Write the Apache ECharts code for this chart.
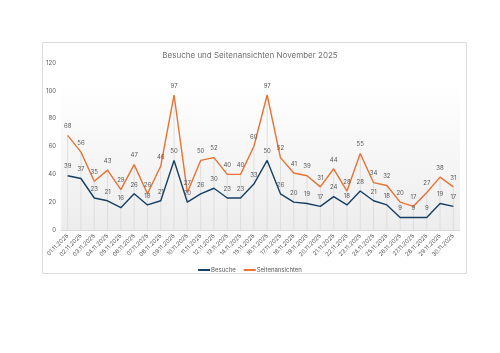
<!DOCTYPE html>
<html>
<head>
<meta charset="utf-8">
<script src="https://cdn.jsdelivr.net/npm/echarts@6/dist/echarts.min.js"></script>
<style>
html,body{margin:0;padding:0;background:#fff;}
#main{width:500px;height:353px;}
</style>
</head>
<body>
<div id="main"></div>
<script>
var days = ["01.11.2025","02.11.2025","03.11.2025","04.11.2025","05.11.2025","06.11.2025","07.11.2025","08.11.2025","09.11.2025","10.11.2025",
	"11.11.2025","12.11.2025","13.11.2025","14.11.2025","15.11.2025","16.11.2025","17.11.2025","18.11.2025","19.11.2025","20.11.2025",
	"21.11.2025","22.11.2025","23.11.2025","24.11.2025","25.11.2025","26.11.2025","27.11.2025","28.11.2025","29.11.2025","30.11.2025"];
var besuche = [39,37,23,21,16,26,18,21,50,20,26,30,23,23,33,50,26,20,19,17,24,18,28,21,18,9,9,9,19,17];
var seiten = [68,56,35,43,29,47,26,46,97,27,50,52,40,40,60,97,52,41,39,31,44,28,55,34,32,20,17,27,38,31];
var yTicks = [0,20,40,60,80,100,120];

// Fallinien: vom hoechsten Punkt bis zur Achse
var drop = [];
for (var i = 0; i < days.length; i++) {
	drop.push(Math.max(besuche[i], seiten[i]));
}

var grey = '#595959';
var myChart = echarts.init(document.getElementById('main'));
var option = {
	backgroundColor: '#fff',
	animation: false,
	textStyle: { fontFamily: 'Inter, "Noto Sans", sans-serif' },
	graphic: [{
		type: 'rect', z: -10,
		shape: { x: 42.5, y: 42.5, width: 424, height: 231 },
		style: { fill: '#fff', stroke: '#dcdcdc', lineWidth: 1 }
	}],
	title: {
		text: 'Besuche und Seitenansichten November 2025',
		left: 'center', top: 47,
		textStyle: { fontSize: 8, fontWeight: 'normal', color: '#707070' }
	},
	legend: {
		data: ['Besuche', 'Seitenansichten'],
		top: 262, left: 'center',
		itemWidth: 12, itemHeight: 2, itemGap: 8,
		icon: 'rect',
		textStyle: { fontSize: 6, color: grey, padding: [0, 0, 0, -4] }
	},
	grid: {
		left: 61, right: 40, top: 63, bottom: 123,
		show: true, borderWidth: 0,
		backgroundColor: new echarts.graphic.LinearGradient(0, 0, 0, 1, [
			{ offset: 0, color: '#ffffff' },
			{ offset: 0.12, color: '#ffffff' },
			{ offset: 1, color: '#ededed' }
		])
	},
	xAxis: {
		type: 'category',
		data: days,
		boundaryGap: true,
		axisLine: { lineStyle: { color: '#d9d9d9' } },
		axisTick: { show: false },
		axisLabel: { rotate: 45, fontSize: 5.8, color: grey, interval: 0, margin: 5 }
	},
	yAxis: {
		type: 'value',
		min: yTicks[0], max: yTicks[yTicks.length - 1], interval: 20,
		splitLine: { show: false },
		axisLine: { show: false },
		axisTick: { show: false },
		axisLabel: { fontSize: 6, color: grey, margin: 5 }
	},
	series: [{
		name: 'drop', type: 'bar', data: drop, barWidth: 1, silent: true,
		itemStyle: { color: '#dedede' }, z: 1
	}, {
		name: 'Besuche', type: 'line', data: besuche,
		symbol: 'circle', symbolSize: 0.1, showSymbol: true, z: 3,
		lineStyle: { color: '#173f63', width: 1.4 },
		itemStyle: { color: '#173f63' },
		label: { show: true, position: 'top', distance: 6, fontSize: 6, color: grey }
	}, {
		name: 'Seitenansichten', type: 'line', data: seiten,
		symbol: 'circle', symbolSize: 0.1, showSymbol: true, z: 3,
		lineStyle: { color: '#e97132', width: 1.4 },
		itemStyle: { color: '#e97132' },
		label: { show: true, position: 'top', distance: 6, fontSize: 6, color: grey }
	}]
};
myChart.setOption(option);
</script>
</body>
</html>
